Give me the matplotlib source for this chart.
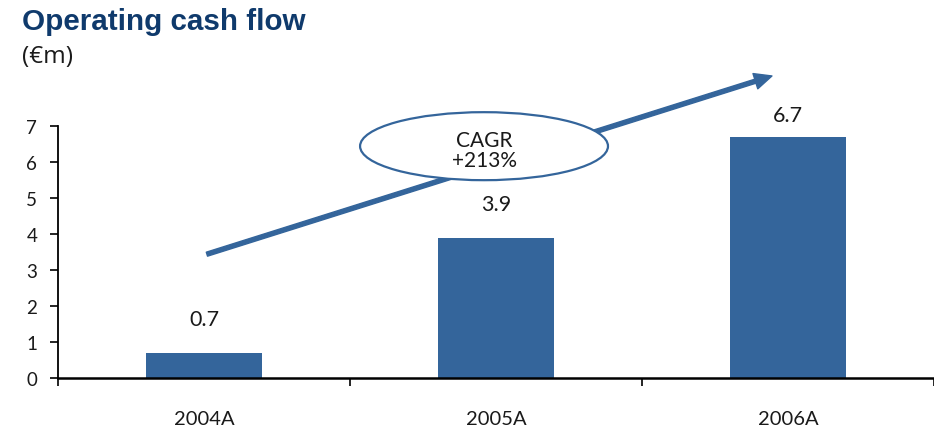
import matplotlib
matplotlib.use("Agg")
import matplotlib.pyplot as plt
from matplotlib.patches import Ellipse, FancyArrowPatch

# Data
years = ["2004A", "2005A", "2006A"]
cash_flow = [0.7, 3.9, 6.7]
y_ticks = [0, 1, 2, 3, 4, 5, 6, 7]
cagr_text = "CAGR\n+213%"

# Styling
bar_color = "#34659b"
title_color = "#0f3a6c"
text_color = "#1a1a1a"
label_gap_pt = [20, 20, 11.5]  # baseline gap above each bar, in points

plt.rcParams["font.family"] = ["Lato", "DejaVu Sans"]

fig = plt.figure(figsize=(9.34, 4.31), dpi=100)
ax = fig.add_axes([0.0621, 0.1206, 0.9379, 0.5847])

x = list(range(len(years)))
ax.bar(x, cash_flow, width=0.4, color=bar_color, zorder=2)

ax.set_xlim(-0.5, 2.5)
ax.set_ylim(0, 7)

for s in ["top", "right"]:
    ax.spines[s].set_visible(False)
ax.spines["left"].set_linewidth(1.3)
ax.spines["bottom"].set_linewidth(1.8)

# y axis
ax.set_yticks(y_ticks)
ax.set_yticklabels([str(v) for v in y_ticks])
ax.tick_params(axis="y", direction="out", length=6, width=1.2, pad=9,
               labelsize=13.5, labelcolor=text_color)

# x axis: ticks at category boundaries, labels at centres
ax.set_xticks([-0.5, 0.5, 1.5, 2.5])
ax.set_xticklabels([])
ax.set_xticks(x, minor=True)
ax.set_xticklabels(years, minor=True)
ax.tick_params(axis="x", which="major", direction="out", length=6, width=1.2)
ax.tick_params(axis="x", which="minor", length=0, pad=23, labelsize=14.5,
               labelcolor=text_color)

# value labels
for xi, v, gap in zip(x, cash_flow, label_gap_pt):
    ax.annotate(f"{v}", xy=(xi, v), xytext=(0, gap), textcoords="offset points",
                ha="center", va="baseline", fontsize=15.5, color=text_color)

# growth arrow
arrow = FancyArrowPatch((0.01, 3.44), (1.945, 8.39),
                        arrowstyle="simple,head_length=1.25,head_width=1.15,tail_width=0.3",
                        mutation_scale=10, color=bar_color, shrinkA=0, shrinkB=0,
                        clip_on=False, zorder=3)
ax.add_patch(arrow)

# CAGR bubble
ell = Ellipse((0.959, 6.44), width=0.849, height=1.889, facecolor="white",
              edgecolor=bar_color, linewidth=1.6, clip_on=False, zorder=4)
ax.add_patch(ell)
ax.text(0.959, 6.33, cagr_text, ha="center", va="center", fontsize=15,
        color=text_color, linespacing=1.0, zorder=5)

# titles
fig.text(0.0236, 0.930, "Operating cash flow", fontsize=21.3, fontweight="bold",
         color=title_color, family=["Liberation Sans", "DejaVu Sans"], va="baseline")
fig.text(0.0236, 0.854, "(€m)", fontsize=17.5, color=text_color,
         family=["Open Sans", "DejaVu Sans"], va="baseline")

fig.savefig("out.png", dpi=100)
